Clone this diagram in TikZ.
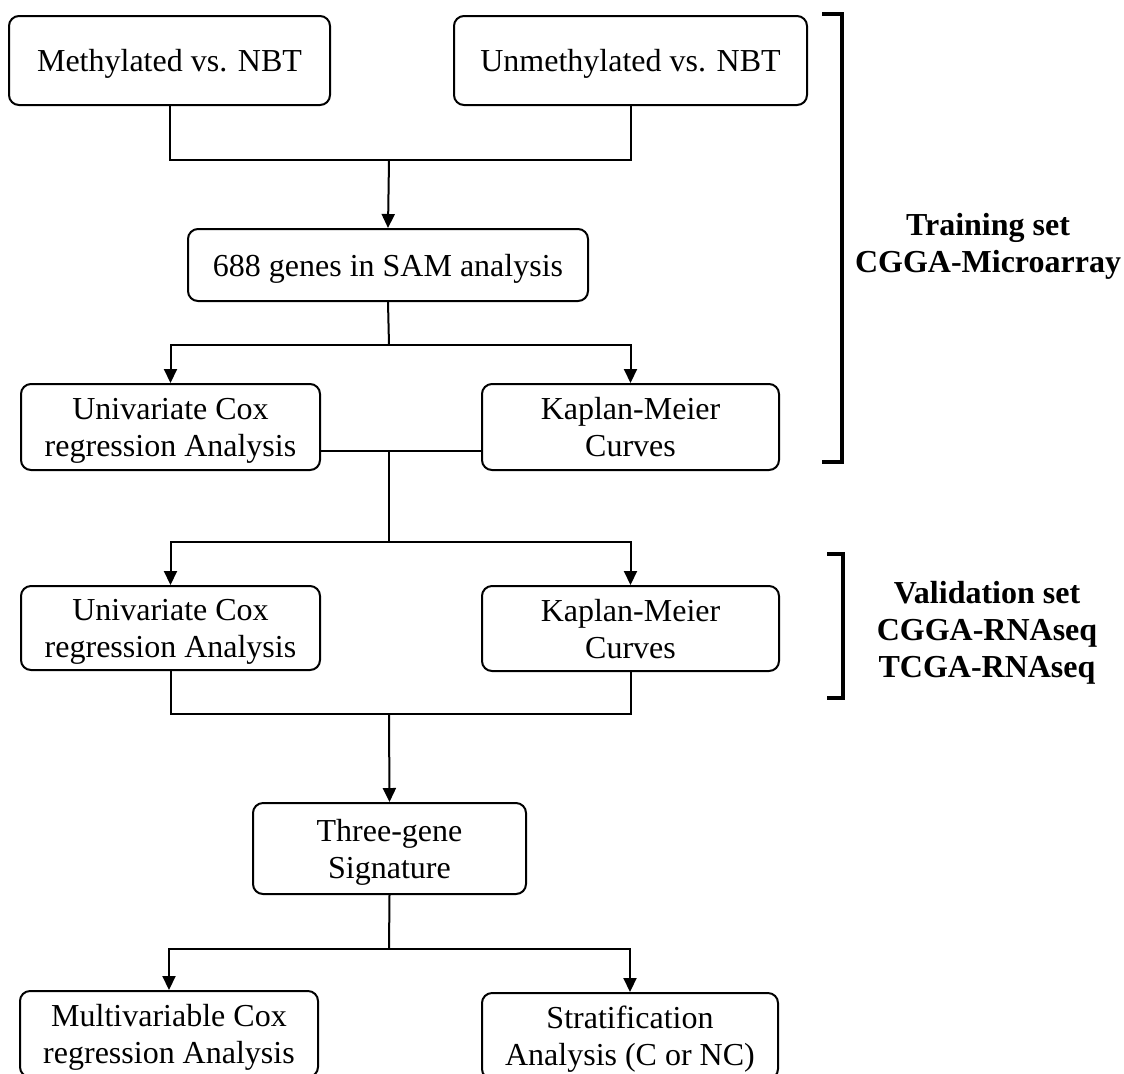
\documentclass[tikz,border=0pt]{standalone}
\usepackage{fontspec}
\setmainfont{Liberation Serif}
\usetikzlibrary{arrows.meta}
\begin{document}
\begin{tikzpicture}[x=0.5pt,y=-0.5pt,
  box/.style={draw, line width=1pt, rounded corners=5pt, align=center, inner sep=0pt, text depth=0pt, font=\fontsize{16}{18.5}\selectfont},
  conn/.style={line width=1pt},
  arr/.style={conn, -{Triangle[length=7pt,width=6.5pt]}},
  brk/.style={line width=1.8pt},
  lbl/.style={align=center, font=\fontsize{16}{18.5}\selectfont\bfseries}]
\useasboundingbox (0,0) rectangle (1124,1073);
\node[box, minimum width=160.5pt, minimum height=44.5pt] (m1) at (169.5,60.5) {Methylated vs. NBT};
\node[box, minimum width=176.5pt, minimum height=44.5pt] (m2) at (630.5,60.5) {Unmethylated vs. NBT};
\node[box, minimum width=200pt, minimum height=36pt] (sam) at (388,265) {688 genes in SAM analysis};
\node[box, minimum width=149.5pt, minimum height=43pt] (u1) at (170.5,427) {Univariate Cox\\regression Analysis};
\node[box, minimum width=148.5pt, minimum height=43pt] (k1) at (630.5,427) {Kaplan-Meier\\Curves};
\node[box, minimum width=149.5pt, minimum height=42pt] (u2) at (170.5,628) {Univariate Cox\\regression Analysis};
\node[box, minimum width=148.5pt, minimum height=42.5pt] (k2) at (630.5,628.5) {Kaplan-Meier\\Curves};
\node[box, minimum width=136.5pt, minimum height=45.5pt] (tg) at (389.5,848.5) {Three-gene\\Signature};
\node[box, minimum width=149pt, minimum height=43pt] (mv) at (169,1034) {Multivariable Cox\\regression Analysis};
\node[box, minimum width=148pt, minimum height=43pt] (st) at (630,1036) {Stratification\\Analysis (C or NC)};

\coordinate (j1) at (389,160);
\coordinate (j2) at (389,345);
\coordinate (j3) at (389,451);
\coordinate (j4) at (389,542);
\coordinate (j5) at (389,714);
\coordinate (j6) at (389,949);

\draw[conn] (m1.south) |- (j1);
\draw[conn] (m2.south) |- (j1);
\draw[arr] (j1) -- (sam.north);
\draw[conn] (sam.south) -- (j2);
\draw[arr] (j2) -| (u1.north);
\draw[arr] (j2) -| (k1.north);
\draw[conn] (u1.east |- j3) -- (k1.west |- j3);
\draw[conn] (j3) -- (j4);
\draw[arr] (j4) -| (u2.north);
\draw[arr] (j4) -| (k2.north);
\draw[conn] (u2.south) |- (j5);
\draw[conn] (k2.south) |- (j5);
\draw[arr] (j5) -- (tg.north);
\draw[conn] (tg.south) -- (j6);
\draw[arr] (j6) -| (mv.north);
\draw[arr] (j6) -| (st.north);

\draw[brk] (822,14) -- (842,14) -- (842,462) -- (822,462);
\draw[brk] (827,554) -- (843,554) -- (843,698) -- (827,698);

\node[lbl] (t1) at (988,246) {Training set\\CGGA-Microarray};
\node[lbl] (t2) at (987,633) {Validation set\\CGGA-RNAseq\\TCGA-RNAseq};
\end{tikzpicture}
\end{document}
